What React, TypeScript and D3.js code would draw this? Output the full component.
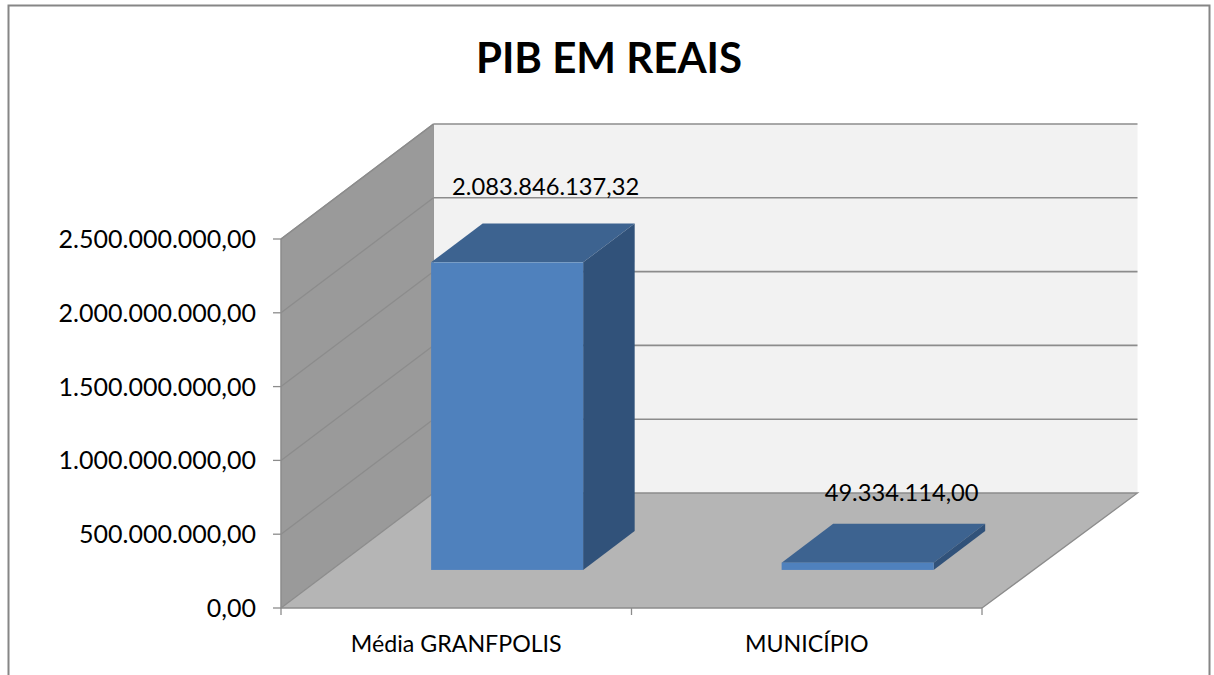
import React from "react";
import * as d3 from "d3";

const categories = ["Média GRANFPOLIS", "MUNICÍPIO"];
const values = [2083846137.32, 49334114.0];
const valueLabels = ["2.083.846.137,32", "49.334.114,00"];
const yTicks = [0, 500000000, 1000000000, 1500000000, 2000000000, 2500000000];
const yTickLabels = ["0,00", "500.000.000,00", "1.000.000.000,00", "1.500.000.000,00", "2.000.000.000,00", "2.500.000.000,00"];

const FONT = "Lato, 'Open Sans', sans-serif";
const LINE = "#8c8c8c";

const x = d3.scaleBand<string>().domain(categories).range([281, 982]).paddingInner(0).paddingOuter(0);
const y = d3.scaleLinear().domain([0, 2500000000]).range([608, 239]);
const DX = 152.5;
const DY = -115;
const barW = 152;
const barDepth = 0.338;
const barGap = 0.331;
// manual data-label placement relative to each bar's top-front-centre
const labelOffset: [number, number][] = [[38.5, -67], [44, -62]];

const poly = (pts: [number, number][]) => d3.line()(pts) + "Z";

export default function App() {
  const x0 = 281, x1 = 982;
  const y0 = y(0), yTop = y(2500000000);
  const bx = x0 + DX, bx1 = x1 + DX + 3;
  return (
    <svg width={1214} height={675} style={{ position: "absolute", left: 0, top: 0, background: "#fff" }} fontFamily={FONT}>
      <path d="M8.5 675V5.5H1209.5V675" fill="none" stroke="#868686" strokeWidth={2} />
      <text x={609} y={73} textAnchor="middle" fontSize={42} fontWeight={700} fill="#000">PIB EM REAIS</text>

      <rect x={bx} y={yTop + DY} width={bx1 - bx} height={y0 - yTop} fill="#f2f2f2" />
      <path d={poly([[x0, y0], [x0, yTop], [bx, yTop + DY], [bx, y0 + DY]])} fill="#9a9a9a" />
      <path d={poly([[x0, y0], [x1, y0], [x1 + DX + 3, y0 + DY], [bx, y0 + DY]])} fill="#b5b5b5" />

      {yTicks.map((t, i) => (
        <g key={t}>
          {i > 0 && <path d={`M${bx} ${y(t) + DY}H${bx1}`} stroke={LINE} strokeWidth={1.6} fill="none" />}
          {i > 0 && <path d={`M${x0} ${y(t)}L${bx} ${y(t) + DY}`} stroke={LINE} strokeWidth={1.3} fill="none" />}
          <path d={`M${x0 - 8} ${y(t)}H${x0}`} stroke={LINE} strokeWidth={1.3} fill="none" />
          <text x={256} y={y(t) + 9} textAnchor="end" fontSize={25} fill="#000">{yTickLabels[i]}</text>
        </g>
      ))}
      <path d={`M${x0} ${y0}L${bx} ${y0 + DY}H${bx1}L${x1} ${y0}`} fill="none" stroke={LINE} strokeWidth={1.3} />
      <path d={`M${bx} ${yTop + DY}V${y0 + DY}`} fill="none" stroke={LINE} strokeWidth={0.8} />
      <path d={`M${x0} ${yTop}V${y0}H${x1}`} fill="none" stroke={LINE} strokeWidth={1.5} />
      <path d={`M${x0} ${yTop}L${bx} ${yTop + DY}`} fill="none" stroke={LINE} strokeWidth={1.3} />

      {[x0, x0 + x.bandwidth(), x1].map((v) => (
        <path key={v} d={`M${v} ${y0}V${y0 + 7}`} stroke={LINE} strokeWidth={1.3} fill="none" />
      ))}

      {categories.map((c, i) => {
        const band = x(c)!;
        const cx = band + x.bandwidth() / 2;
        const fx = cx - barW / 2 + barGap * DX + 0.4;
        const shiftY = barGap * DY;
        const yb = y0 + shiftY;
        const yt = y(values[i]) + shiftY;
        const ox = barDepth * DX, oy = barDepth * DY;
        return (
          <g key={c}>
            <path d={poly([[fx, yt], [fx + barW, yt], [fx + barW + ox, yt + oy], [fx + ox, yt + oy]])} fill="#3d6390" />
            <path d={poly([[fx + barW, yt], [fx + barW + ox, yt + oy], [fx + barW + ox, yb + oy], [fx + barW, yb]])} fill="#31527a" />
            <rect x={fx} y={yt} width={barW} height={yb - yt} fill="#4f81bd" />
            <text x={fx + barW / 2 + labelOffset[i][0]} y={yt + labelOffset[i][1]} textAnchor="middle" fontSize={23.7} fill="#000">{valueLabels[i]}</text>
            <text x={cx} y={652} textAnchor="middle" fontSize={23.2} fill="#000">{c}</text>
          </g>
        );
      })}
    </svg>
  );
}
